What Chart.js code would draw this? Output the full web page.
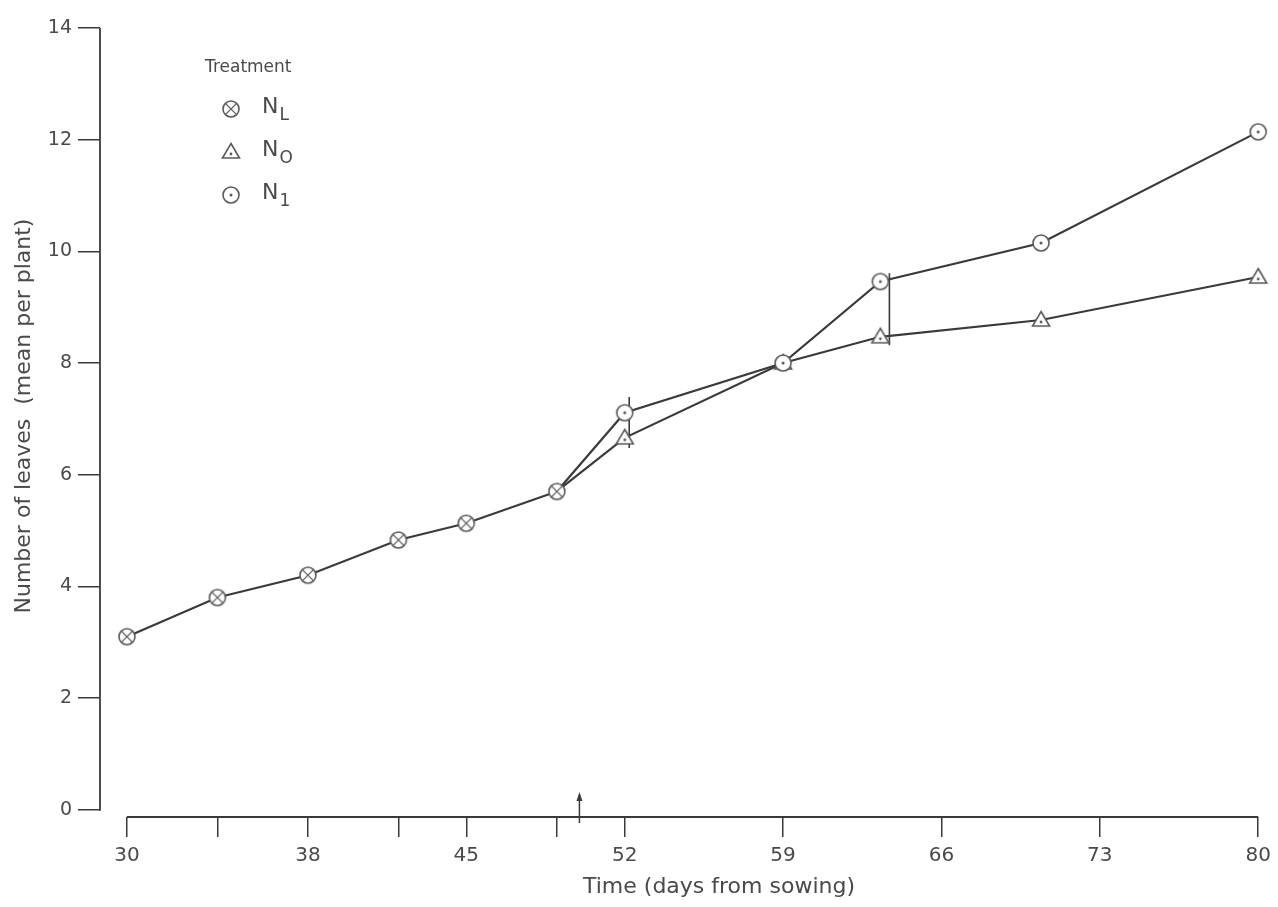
<!DOCTYPE html>
<html>
<head>
<meta charset="utf-8">
<title>Number of leaves per plant</title>
<script src="https://cdn.jsdelivr.net/npm/chart.js@4.4.1/dist/chart.umd.min.js"></script>
<style>
  html, body { margin: 0; padding: 0; background: #ffffff; }
  #wrap { width: 1278px; height: 907px; position: relative; }
</style>
</head>
<body>
<div id="wrap"><canvas id="chart" width="1278" height="907"></canvas></div>
<script>
// Common growth before the treatments separate (N_L symbol)
const earlyDays = [30, 34, 38, 42, 45, 49];
const earlyLeaves = [3.1, 3.8, 4.2, 4.83, 5.13, 5.7];

// Separate treatments from day 49 onwards
const laterDays = [49, 52, 59, 63.3, 70.4, 80];
const leavesN0 = [5.7, 6.66, 8.0, 8.47, 8.77, 9.54];
const leavesN1 = [5.7, 7.11, 8.0, 9.46, 10.15, 12.14];

// Vertical comparison bars
const barDays = [52.2, 63.7];
const barLow = [6.48, 8.32];
const barHigh = [7.39, 9.61];

// Arrow on the time axis
const arrowDay = 50;

// Axis ticks
const xTickDays = [30, 34, 38, 42, 45, 49, 52, 59, 66, 73, 80];
const xLabelDays = [30, 38, 45, 52, 59, 66, 73, 80];
const yTicks = [0, 2, 4, 6, 8, 10, 12, 14];

const INK = '#3a3a3a';
const TEXT = '#4a4a4a';
const FONT = '"DejaVu Sans", Verdana, sans-serif';

// Small hand-made marker symbols
function makeMarker(kind) {
  const s = 24, m = s / 2;
  const c = document.createElement('canvas');
  c.width = s; c.height = s;
  const g = c.getContext('2d');
  g.strokeStyle = '#5a5a5a';
  g.fillStyle = '#ffffff';
  g.lineWidth = 1.6;
  if (kind === 'triangle') {
    g.beginPath();
    g.moveTo(m, m - 8.5);
    g.lineTo(m + 8.5, m + 6);
    g.lineTo(m - 8.5, m + 6);
    g.closePath();
    g.fill(); g.stroke();
    g.fillStyle = '#5a5a5a';
    g.beginPath(); g.arc(m, m + 2, 1.4, 0, Math.PI * 2); g.fill();
  } else {
    const r = 8;
    g.beginPath(); g.arc(m, m, r, 0, Math.PI * 2); g.fill(); g.stroke();
    if (kind === 'cross') {
      const d = r * 0.7;
      g.lineWidth = 1.3;
      g.beginPath();
      g.moveTo(m - d, m - d); g.lineTo(m + d, m + d);
      g.moveTo(m + d, m - d); g.lineTo(m - d, m + d);
      g.stroke();
    } else {
      g.fillStyle = '#5a5a5a';
      g.beginPath(); g.arc(m, m, 1.5, 0, Math.PI * 2); g.fill();
    }
  }
  return c;
}
const crossMark = makeMarker('cross');
const triMark = makeMarker('triangle');
const dotMark = makeMarker('dot');

const pts = (xs, ys) => xs.map((x, i) => ({ x: x, y: ys[i] }));

const datasets = [
  {
    label: 'NL',
    data: pts(earlyDays, earlyLeaves),
    borderColor: INK, borderWidth: 2.2,
    pointStyle: crossMark,
    order: 1
  },
  {
    label: 'N1',
    data: pts(laterDays, leavesN1),
    borderColor: INK, borderWidth: 2.2,
    pointStyle: ctx => ctx.dataIndex === 0 ? false : dotMark,
    order: 2
  },
  {
    label: 'N0',
    data: pts(laterDays, leavesN0),
    borderColor: INK, borderWidth: 2.2,
    pointStyle: ctx => ctx.dataIndex === 0 ? false : triMark,
    order: 3
  }
];
barDays.forEach((d, i) => {
  datasets.push({
    label: 'bar' + i,
    data: [{ x: d, y: barLow[i] }, { x: d, y: barHigh[i] }],
    borderColor: INK, borderWidth: 1.6,
    pointRadius: 0,
    order: 4
  });
});

// Draws the axis lines, arrow, axis titles and the key
const decorations = {
  id: 'decorations',
  beforeDatasetsDraw(chart) {
    const { ctx, chartArea, scales: { x, y } } = chart;
    ctx.save();
    ctx.strokeStyle = INK;
    ctx.lineWidth = 1.8;
    // y axis line
    ctx.beginPath();
    ctx.moveTo(chartArea.left, y.getPixelForValue(0) + 1);
    ctx.lineTo(chartArea.left, y.getPixelForValue(14));
    ctx.stroke();
    // x axis line
    const y0 = chartArea.bottom;
    ctx.beginPath();
    ctx.moveTo(x.getPixelForValue(30), y0);
    ctx.lineTo(x.getPixelForValue(80), y0);
    ctx.stroke();
    // arrow
    const ax = x.getPixelForValue(arrowDay);
    ctx.lineWidth = 1.5;
    ctx.beginPath();
    ctx.moveTo(ax, y0 + 6);
    ctx.lineTo(ax, y0 - 22);
    ctx.stroke();
    ctx.fillStyle = INK;
    ctx.beginPath();
    ctx.moveTo(ax, y0 - 25);
    ctx.lineTo(ax - 3, y0 - 16);
    ctx.lineTo(ax + 3, y0 - 16);
    ctx.closePath();
    ctx.fill();
    ctx.restore();
  },
  afterDraw(chart) {
    const { ctx } = chart;
    ctx.save();
    ctx.fillStyle = TEXT;
    ctx.textBaseline = 'middle';
    // axis titles
    ctx.font = '22px ' + FONT;
    ctx.textAlign = 'center';
    ctx.fillText('Time (days from sowing)', 719, 887);
    ctx.translate(24, 416);
    ctx.rotate(-Math.PI / 2);
    ctx.fillText('Number of leaves  (mean per plant)', 0, 0);
    ctx.restore();

    // key
    ctx.save();
    ctx.fillStyle = TEXT;
    ctx.textBaseline = 'middle';
    ctx.textAlign = 'left';
    ctx.font = '17px ' + FONT;
    ctx.fillText('Treatment', 205, 68);
    const rows = [
      { mark: crossMark, sub: 'L', y: 109 },
      { mark: triMark, sub: 'O', y: 152 },
      { mark: dotMark, sub: '1', y: 195 }
    ];
    rows.forEach(r => {
      ctx.drawImage(r.mark, 231 - 12, r.y - 12);
      ctx.font = '22px ' + FONT;
      ctx.fillText('N', 262, r.y - 2);
      const w = ctx.measureText('N').width;
      ctx.font = '17px ' + FONT;
      ctx.fillText(r.sub, 262 + w + 1, r.y + 7);
    });
    ctx.restore();
  }
};

new Chart(document.getElementById('chart'), {
  type: 'line',
  data: { datasets },
  options: {
    responsive: false,
    animation: false,
    devicePixelRatio: 1,
    layout: { padding: { top: 28, right: 6, left: 0, bottom: 0 } },
    plugins: { legend: { display: false }, tooltip: { enabled: false } },
    elements: { line: { tension: 0 } },
    scales: {
      x: {
        type: 'linear',
        min: 28.81,
        max: 80.5,
        afterBuildTicks: s => { s.ticks = xTickDays.map(v => ({ value: v })); },
        afterFit: s => { s.height = 90; },
        ticks: {
          autoSkip: false,
          maxRotation: 0,
          padding: 7,
          color: TEXT,
          font: { family: FONT, size: 20 },
          callback: v => xLabelDays.includes(v) ? String(v) : ''
        },
        grid: { drawOnChartArea: false, drawTicks: true, tickLength: 20, color: INK, lineWidth: 1.5 },
        border: { display: false }
      },
      y: {
        type: 'linear',
        min: -0.13,
        max: 14,
        afterBuildTicks: s => { s.ticks = yTicks.map(v => ({ value: v })); },
        afterFit: s => { s.width = 100; },
        ticks: {
          padding: 6,
          color: TEXT,
          font: { family: FONT, size: 19 },
          callback: v => String(v)
        },
        grid: { drawOnChartArea: false, drawTicks: true, tickLength: 22, color: INK, lineWidth: 1.5 },
        border: { display: false }
      }
    }
  },
  plugins: [decorations]
});
</script>
</body>
</html>
